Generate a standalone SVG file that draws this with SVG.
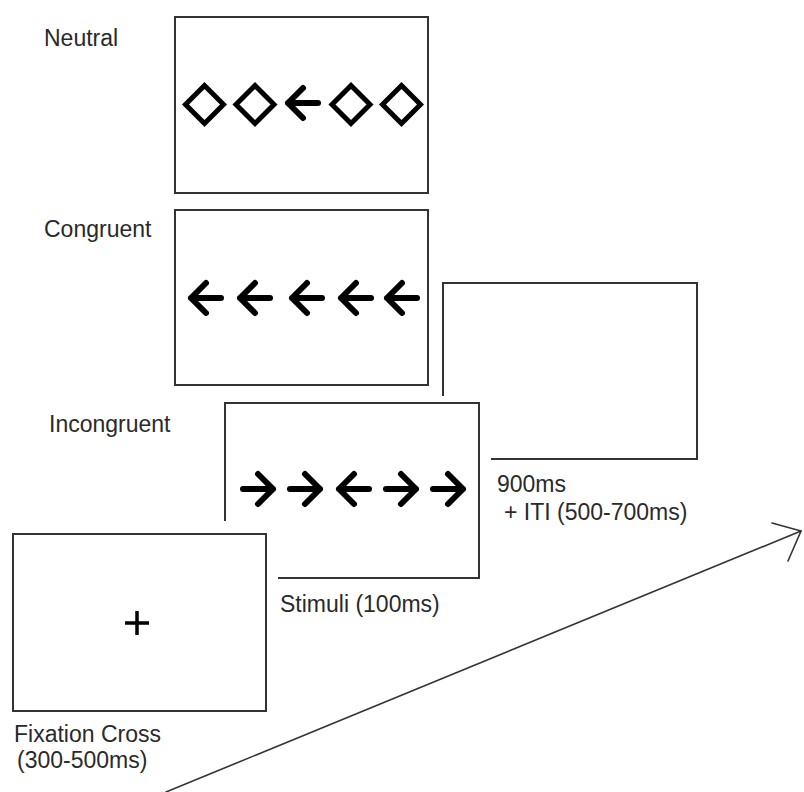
<svg xmlns="http://www.w3.org/2000/svg" xmlns:xlink="http://www.w3.org/1999/xlink" width="804" height="792" viewBox="0 0 804 792">
<style>
.box{fill:none;stroke:#333;stroke-width:2}
.glyph{fill:none;stroke:#000;stroke-width:6;stroke-linecap:round;stroke-linejoin:round}
.dia{fill:none;stroke:#000;stroke-width:5;stroke-linejoin:miter}
.lbl{font-family:"Liberation Sans",Arial,sans-serif;font-size:23px;fill:#2a2a2a}
.conn{fill:none;stroke:#333;stroke-width:1.6;stroke-linecap:round}
</style>
<defs>
<path id="la" d="M3,0 H33 M18,-15 L3,0 L18,15"/>
<path id="ra" d="M-3,0 H-33 M-18,-15 L-3,0 L-18,15"/>
<path id="dm" d="M0,-19 L19,0 L0,19 L-19,0 Z"/>
</defs>
<rect width="804" height="792" fill="#fff"/>

<g id="neutral">
<rect class="box" x="175" y="17" width="253" height="176"/>
<g class="dia">
<use xlink:href="#dm" x="204.5" y="104.5"/>
<use xlink:href="#dm" x="255" y="104.5"/>
<use xlink:href="#dm" x="351" y="104.5"/>
<use xlink:href="#dm" x="401.5" y="104.5"/>
</g>
<g class="glyph"><use xlink:href="#la" x="285" y="103"/></g>
<text class="lbl" x="44" y="46">Neutral</text>
</g>

<g id="congruent">
<rect class="box" x="175" y="210" width="253" height="175"/>
<g class="glyph">
<use xlink:href="#la" x="188" y="298"/>
<use xlink:href="#la" x="237" y="298"/>
<use xlink:href="#la" x="289" y="298"/>
<use xlink:href="#la" x="338" y="298"/>
<use xlink:href="#la" x="384" y="298"/>
</g>
<text class="lbl" x="44" y="237">Congruent</text>
</g>

<g id="iti">
<path class="box" d="M443,396 V283 H697 V459 H491"/>
<text class="lbl" x="497" y="492">900ms</text>
<text class="lbl" x="504" y="520">+ ITI (500-700ms)</text>
</g>

<g id="incongruent">
<path class="box" d="M225,521 V403 H479 V578 H278"/>
<g class="glyph">
<use xlink:href="#ra" x="276" y="489"/>
<use xlink:href="#ra" x="323" y="489"/>
<use xlink:href="#la" x="336" y="489"/>
<use xlink:href="#ra" x="419" y="489"/>
<use xlink:href="#ra" x="466" y="489"/>
</g>
<text class="lbl" x="49" y="432">Incongruent</text>
<text class="lbl" x="280" y="612">Stimuli (100ms)</text>
</g>

<g id="fixation">
<rect class="box" x="13" y="534" width="253" height="177"/>
<path d="M125,623 H149 M137,611 V635" stroke="#000" stroke-width="3.5" fill="none"/>
<text class="lbl" x="14" y="742">Fixation Cross</text>
<text class="lbl" x="17" y="768">(300-500ms)</text>
</g>

<g id="connectors">
<path class="conn" d="M166,792 L801,531"/>
<path class="conn" d="M772,523 L801,531 L788,561"/>
</g>
</svg>
